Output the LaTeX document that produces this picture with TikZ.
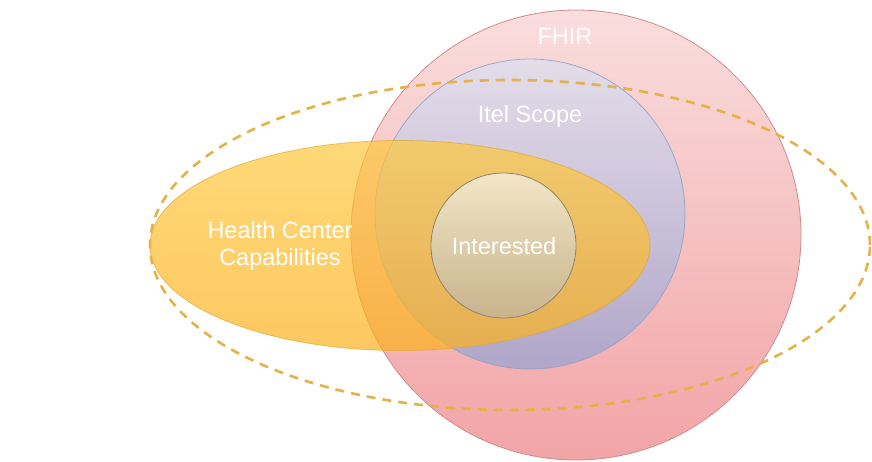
\documentclass[tikz,border=0pt]{standalone}
\usepackage{fontspec}
\setmainfont{Liberation Sans}
\usetikzlibrary{shapes.geometric}
\definecolor{fhirtop}{HTML}{FADDDD}
\definecolor{fhirbot}{HTML}{F2A4A6}
\definecolor{fhirline}{HTML}{D08A8C}
\definecolor{iteltop}{HTML}{E2DEEC}
\definecolor{itelbot}{HTML}{A9A6CC}
\definecolor{itelline}{HTML}{93A3CA}
\definecolor{hctop}{HTML}{FEC93E}
\definecolor{hcbot}{HTML}{FCB11C}
\definecolor{hcline}{HTML}{E3A82C}
\definecolor{inttop}{HTML}{F2E6C6}
\definecolor{intbot}{HTML}{C8B38C}
\definecolor{intline}{HTML}{8C8272}
\definecolor{dashcol}{HTML}{E3B24A}
\begin{document}
\begin{tikzpicture}[x=1pt,y=-1pt,
  lbl/.style={text=white,font=\fontsize{23.5}{27}\selectfont,align=center,inner sep=0},
  setshape/.style={inner sep=0,line width=0.8pt}]
\useasboundingbox (0,0) rectangle (872,461);
\node[setshape,circle,minimum size=450pt,draw=fhirline,top color=fhirtop,bottom color=fhirbot] (fhir) at (576,235) {};
\node[setshape,circle,minimum size=310pt,draw=itelline,top color=iteltop,bottom color=itelbot,opacity=0.9] (itel) at (530,214) {};
\node[setshape,ellipse,minimum width=500pt,minimum height=210pt,draw=hcline,top color=hctop,bottom color=hcbot,opacity=0.7] (hc) at (400,245.5) {};
\node[setshape,circle,minimum size=145pt,draw=intline,top color=inttop,bottom color=intbot] (int) at (503.5,245.5) {};
\node[setshape,ellipse,minimum width=720pt,minimum height=330pt,draw=dashcol,line width=2.6pt,dash pattern=on 9pt off 7pt] (scope) at (510,245) {};
\node[lbl] (fhirlbl) at (565,36) {FHIR};
\node[lbl] (itellbl) at (530,116) {Itel Scope};
\node[lbl] (hclbl) at (280,246) {Health Center\\Capabilities};
\node[lbl] (intlbl) at (504,246) {Interested};
\end{tikzpicture}
\end{document}
